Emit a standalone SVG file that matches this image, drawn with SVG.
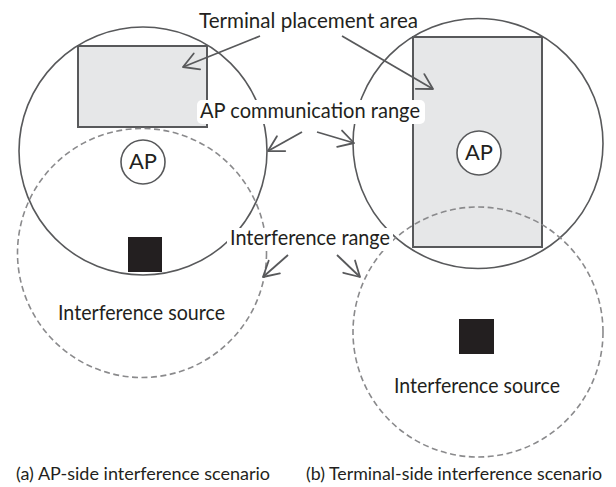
<svg xmlns="http://www.w3.org/2000/svg" width="616" height="487" viewBox="0 0 616 487">
<style>
  .lbl { font-family: Lato, "Liberation Sans", sans-serif; fill: #231f20; }
  .area { fill: #e6e7e8; stroke: #58595b; stroke-width: 2; }
  .comm { fill: none; stroke: #58595b; stroke-width: 1.6; }
  .intf { fill: none; stroke: #8a8a8c; stroke-width: 1.6; stroke-dasharray: 6 3.5; }
  .ap { fill: #ffffff; stroke: #58595b; stroke-width: 1.6; }
  .src { fill: #231f20; }
  .bg { fill: #ffffff; }
  .conn { fill: none; stroke: #58595b; stroke-width: 1.8; marker-end: url(#arr); }
</style>
<defs>
  <marker id="arr" viewBox="-17 -11 19 22" refX="0" refY="0" markerWidth="19" markerHeight="22" markerUnits="userSpaceOnUse" orient="auto">
    <path d="M -15 -8.5 L 0 0 L -15 8.5" fill="none" stroke="#58595b" stroke-width="1.8" stroke-linejoin="round" stroke-linecap="round"/>
  </marker>
</defs>
<rect width="616" height="487" fill="#ffffff"/>

<g id="scenario-a">
  <g id="a-terminal-area"><rect class="area" x="78" y="46" width="129" height="81"/></g>
  <g id="a-comm-range"><circle class="comm" cx="143" cy="151" r="124"/></g>
  <g id="a-interference-range"><circle class="intf" cx="142" cy="253" r="124.5"/></g>
  <g id="a-ap"><circle class="ap" cx="143" cy="162" r="22"/><text class="lbl" x="143" y="169" font-size="21" text-anchor="middle" textLength="28" lengthAdjust="spacingAndGlyphs">AP</text></g>
  <g id="a-source"><rect class="src" x="128" y="237" width="34" height="35"/><text class="lbl" x="58" y="320" font-size="21" textLength="167" lengthAdjust="spacingAndGlyphs">Interference source</text></g>
  <g id="a-caption"><text class="lbl" x="16" y="480" font-size="18" textLength="254" lengthAdjust="spacingAndGlyphs">(a) AP-side interference scenario</text></g>
</g>

<g id="scenario-b">
  <g id="b-terminal-area"><rect class="area" x="413" y="37" width="129" height="210"/></g>
  <g id="b-comm-range"><circle class="comm" cx="478" cy="143.5" r="125"/></g>
  <g id="b-interference-range"><circle class="intf" cx="478" cy="332" r="125"/></g>
  <g id="b-ap"><circle class="ap" cx="479" cy="153" r="22"/><text class="lbl" x="479" y="160" font-size="21" text-anchor="middle" textLength="28" lengthAdjust="spacingAndGlyphs">AP</text></g>
  <g id="b-source"><rect class="src" x="459" y="319" width="35" height="35"/><text class="lbl" x="394" y="393" font-size="21" textLength="166" lengthAdjust="spacingAndGlyphs">Interference source</text></g>
  <g id="b-caption"><text class="lbl" x="306" y="480" font-size="18" textLength="296" lengthAdjust="spacingAndGlyphs">(b) Terminal-side interference scenario</text></g>
</g>

<g id="label-terminal-area">
  <text class="lbl" x="199" y="28" font-size="22" textLength="219" lengthAdjust="spacingAndGlyphs">Terminal placement area</text>
</g>
<g id="label-comm-range">
  <rect class="bg" x="197" y="100" width="228" height="24" rx="5"/>
  <text class="lbl" x="200" y="118" font-size="22" textLength="220" lengthAdjust="spacingAndGlyphs">AP communication range</text>
</g>
<g id="label-interference-range">
  <rect class="bg" x="227" y="228" width="166" height="23" rx="5"/>
  <text class="lbl" x="230" y="245" font-size="22" textLength="160" lengthAdjust="spacingAndGlyphs">Interference range</text>
</g>

<g id="connectors">
  <line class="conn" x1="260" y1="36" x2="183" y2="67"/>
  <line class="conn" x1="342" y1="36" x2="433" y2="89"/>
  <line class="conn" x1="302" y1="132" x2="268" y2="151"/>
  <line class="conn" x1="317" y1="132" x2="354" y2="143"/>
  <line class="conn" x1="288" y1="255" x2="263" y2="277"/>
  <line class="conn" x1="337" y1="255" x2="360" y2="277"/>
</g>
</svg>
